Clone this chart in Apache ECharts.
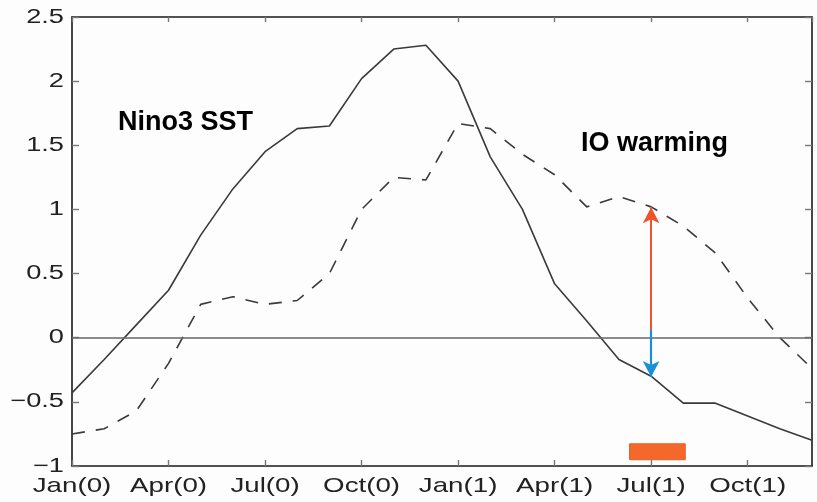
<!DOCTYPE html>
<html>
<head>
<meta charset="utf-8">
<script src="https://cdn.jsdelivr.net/npm/echarts@6/dist/echarts.min.js"></script>
<style>
html,body{margin:0;padding:0;background:#fdfdfd;}
#chart{width:817px;height:502px;}
</style>
</head>
<body>
<div id="chart"></div>
<script>
// Month index (0 = Jan(0) ... 23 = Dec(1))
const months = [0,1,2,3,4,5,6,7,8,9,10,11,12,13,14,15,16,17,18,19,20,21,22,23];
const tickLabels = ['Jan(0)','Apr(0)','Jul(0)','Oct(0)','Jan(1)','Apr(1)','Jul(1)','Oct(1)'];
// Nino3 SST (solid)
const nino3 = [-0.43,-0.17,0.10,0.37,0.80,1.16,1.45,1.63,1.65,2.02,2.25,2.28,
               2.00,1.41,1.00,0.42,0.13,-0.17,-0.30,-0.51,-0.51,-0.61,-0.71,-0.80];
// IO warming (dashed)
const ioWarm = [-0.75,-0.71,-0.57,-0.20,0.26,0.32,0.26,0.29,0.50,1.00,1.25,1.23,
                1.67,1.63,1.43,1.27,1.02,1.10,1.02,0.87,0.66,0.31,0.00,-0.24];
// annotations
const arrowMonth = 18;
const arrowBase = 0.06;
const arrowUpTip = 1.017;
const arrowDownTip = -0.306;
const barMonths = [17.33, 19.06];
const barValues = [-0.827, -0.951];
const labelNino = 'Nino3 SST';
const labelIO = 'IO warming';

const FONT = 'Liberation Sans, Arial, Helvetica, sans-serif';
const chart = echarts.init(document.getElementById('chart'), null, {renderer:'canvas'});

const axisLineStyle = {color:'#1a1a1a', width:1.6};
const tickStyle = {color:'#777', width:1.4};

function fmtY(v){ return String(v).replace('-', '\u2212'); }
function fmtX(v){ return (v%3===0 && v/3 < tickLabels.length) ? tickLabels[v/3] : ''; }

const option = {
  animation:false,
  backgroundColor:'#fdfdfd',
  grid:{left:72, right:5, top:17, bottom:36, containLabel:false, outerBoundsMode:'none'},
  xAxis:[{
    type:'value', min:0, max:23, interval:3, position:'bottom',
    axisLine:{show:true, onZero:false, lineStyle:axisLineStyle},
    axisTick:{show:true, inside:true, length:6, lineStyle:tickStyle},
    splitLine:{show:false},
    axisLabel:{show:true, showMaxLabel:false, hideOverlap:false, margin:10, color:'#222', fontFamily:FONT, fontSize:21,
      formatter:fmtX}
  },{
    type:'value', min:0, max:23, interval:3, position:'top',
    axisLine:{show:true, onZero:false, lineStyle:axisLineStyle},
    axisTick:{show:true, inside:true, length:5, lineStyle:tickStyle},
    splitLine:{show:false}, axisLabel:{show:false}
  }],
  yAxis:[{
    type:'value', min:-1, max:2.5, interval:0.5, position:'left',
    axisLine:{show:true, onZero:false, lineStyle:axisLineStyle},
    axisTick:{show:true, inside:true, length:7, lineStyle:tickStyle},
    splitLine:{show:false},
    axisLabel:{show:true, margin:8, color:'#222', fontFamily:FONT, fontSize:20, formatter:fmtY}
  },{
    type:'value', min:-1, max:2.5, interval:0.5, position:'right',
    axisLine:{show:true, onZero:false, lineStyle:axisLineStyle},
    axisTick:{show:true, inside:true, length:7, lineStyle:tickStyle},
    splitLine:{show:false}, axisLabel:{show:false}
  }],
  series:[{
    name:'zero', type:'line', data:[], silent:true,
    markLine:{silent:true, symbol:['none','none'], label:{show:false},
      lineStyle:{color:'#666', width:1.6, type:'solid'},
      data:[{yAxis:0}]}
  },{
    name:'Nino3 SST', type:'line', data:months.map((m,i)=>[m, nino3[i]]),
    showSymbol:false, symbol:'none', smooth:false,
    lineStyle:{color:'#3a3a3a', width:1.6, type:'solid'}, z:3
  },{
    name:'IO warming', type:'line', data:months.map((m,i)=>[m, ioWarm[i]]),
    showSymbol:false, symbol:'none', smooth:false,
    lineStyle:{color:'#3a3a3a', width:1.6, type:[13,11]}, z:3
  },{
    name:'annot', type:'line', data:[], silent:true, z:5,
    markLine:{silent:true, symbol:['none','arrow'], symbolSize:[12.5,16], label:{show:false},
      data:[
        [{coord:[arrowMonth, arrowBase], lineStyle:{color:'#f0522a', width:2, type:'solid'}},{coord:[arrowMonth, arrowUpTip]}],
        [{coord:[arrowMonth, arrowBase], lineStyle:{color:'#1890d8', width:2.2, type:'solid'}},{coord:[arrowMonth, arrowDownTip]}]
      ]},
    markArea:{silent:true, itemStyle:{color:'#f4692b', borderColor:'#ee5a22', borderWidth:1},
      data:[[{coord:[barMonths[0], barValues[0]]},{coord:[barMonths[1], barValues[1]]}]]}
  }],
  graphic:[
    {type:'text', left:118, top:109, silent:true,
     style:{text:labelNino, font:'bold 27px '+FONT, fill:'#000'}},
    {type:'text', left:581, top:130, silent:true,
     style:{text:labelIO, font:'bold 27px '+FONT, fill:'#000'}}
  ]
};
chart.setOption(option);

// The original figure's tick labels are horizontally stretched; widen the axis label text.
(function stretchLabels(){
  const xSet = new Set(tickLabels);
  const ySet = new Set([-1,-0.5,0,0.5,1,1.5,2,2.5].map(fmtY));
  const zr = chart.getZr();
  zr.storage.getDisplayList(true).forEach(function(el){
    if (!el.style || typeof el.style.text !== 'string') return;
    const t = el.style.text;
    if (xSet.has(t)) { el.scaleX = 1.32; el.originX = 0; el.markRedraw(); }
    else if (ySet.has(t)) { el.scaleX = 1.36; el.originX = 0; el.markRedraw(); }
  });
  zr.refreshImmediately();
})();
</script>
</body>
</html>
